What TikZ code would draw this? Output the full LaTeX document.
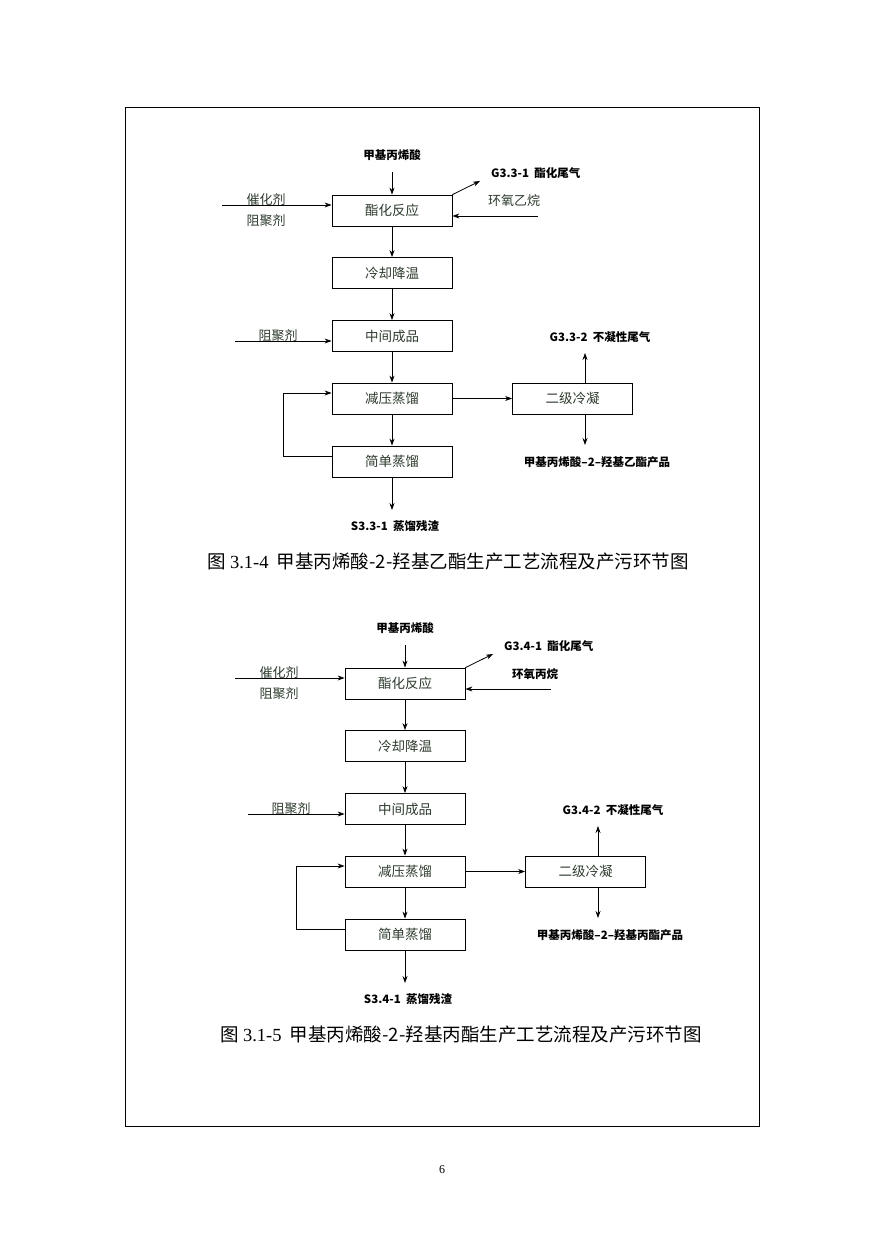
\documentclass[tikz,border=0pt]{standalone}
\usepackage{fontspec}
\setmainfont{Noto Sans CJK SC}
\newfontfamily\capf{Liberation Serif}
\usetikzlibrary{arrows.meta}
\definecolor{tg}{HTML}{2E3B2E}
\tikzset{
 box/.style={draw,line width=0.8pt,minimum width=120pt,minimum height=31pt,inner sep=0pt,font=\fontsize{13.5}{13.5}\selectfont,text=tg},
 lbl/.style={font=\fontsize{13}{13}\selectfont,text=tg,inner sep=0pt},
 blbl/.style={font=\bfseries\fontsize{11.5}{11.5}\selectfont,inner sep=0pt},
 ar/.style={line width=0.8pt,-{Stealth[length=7pt,width=5pt]}},
 ln/.style={line width=0.8pt}
}
\begin{document}
\begin{tikzpicture}[x=1pt,y=-1pt]
\useasboundingbox (0,0) rectangle (885,1252);
\draw[line width=0.6pt] (125,107) rectangle (759,1126);
\node[font=\capf\fontsize{12}{12}\selectfont] (pg) at (442,1170) {6};
\foreach \dx/\dy/\fig/\g/\s/\eo/\prod/\cn/\eob in {0/0/3.1-4/G3.3/S3.3/环氧乙烷/甲基丙烯酸--2--羟基乙酯产品/甲基丙烯酸-2-羟基乙酯/0, 13/473/3.1-5/G3.4/S3.4/环氧丙烷/甲基丙烯酸--2--羟基丙酯产品/甲基丙烯酸-2-羟基丙酯/1}{
\begin{scope}[shift={(\dx,\dy)}]
\node[box] (b1) at (392,210.5) {酯化反应};
\node[box] (b2) at (392,273) {冷却降温};
\node[box] (b3) at (392,336) {中间成品};
\node[box] (b4) at (392,398.5) {减压蒸馏};
\node[box] (b5) at (392,461.5) {简单蒸馏};
\node[box] (b6) at (572.5,398.5) {二级冷凝};
\node[blbl] (t1) at (392,155) {甲基丙烯酸};
\coordinate (t1e) at (392,172);
\draw[ar] (t1e) -- (b1.north);
\node[blbl,anchor=west] (g1) at (491,173) {\g-1\ \ 酯化尾气};
\coordinate (g1e) at (480,181);
\draw[ar] (b1.north east) -- (g1e);
\ifnum\eob=1
\node[blbl,anchor=west] (eo) at (499,201) {\eo};
\else
\node[lbl,anchor=west] (eo) at (488,201) {\eo};
\fi
\coordinate (eos) at (538,216);
\draw[ar] (eos) -- (b1.east|-eos);
\node[lbl] (c1) at (266,200) {催化剂};
\node[lbl] (c2) at (266,221) {阻聚剂};
\coordinate (c1s) at (222,205);
\draw[ar] (c1s) -- (b1.west|-c1s);
\draw[ar] (b1) -- (b2);
\draw[ar] (b2) -- (b3);
\node[lbl] (z2) at (278,336) {阻聚剂};
\coordinate (z2s) at (235,341);
\draw[ar] (z2s) -- (b3.west|-z2s);
\draw[ar] (b3) -- (b4);
\draw[ar] (b4) -- (b5);
\coordinate (lp) at (283,456);
\draw[ar] (b5.west|-lp) -- (lp) |- ([yshift=5.5pt]b4.west);
\draw[ar] (b4) -- (b6);
\coordinate (up) at (585,353);
\draw[ar] (b6.north-|up) -- (up);
\node[blbl] (g2) at (600,337) {\g-2\ \ 不凝性尾气};
\coordinate (dn) at (585,445);
\draw[ar] (b6.south-|dn) -- (dn);
\node[blbl] (pr) at (597,462) {\prod};
\coordinate (sb) at (392,510);
\draw[ar] (b5) -- (sb);
\node[blbl] (s1) at (395,526) {\s-1\ \ 蒸馏残渣};
\node[font=\fontsize{18.5}{18.5}\selectfont] (cap) at (448,561) {图 {\capf\fig}\ \ \cn 生产工艺流程及产污环节图};
\end{scope}}
\end{tikzpicture}
\end{document}
